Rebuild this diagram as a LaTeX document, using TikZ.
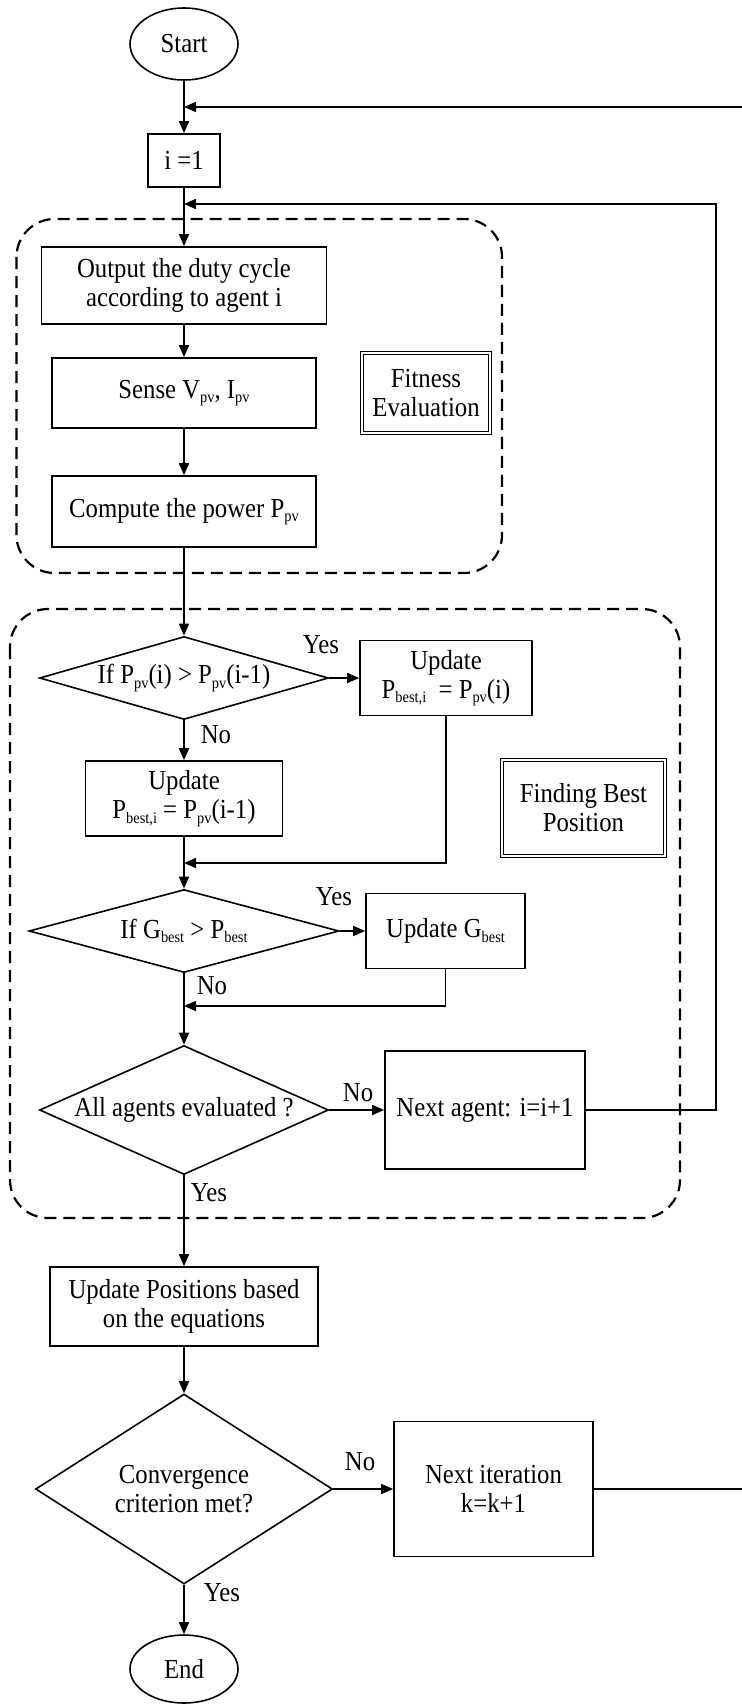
\documentclass[tikz,border=0pt]{standalone}
\usepackage{fontspec}
\setmainfont{Liberation Serif}[FakeStretch=0.9]
\usetikzlibrary{shapes.geometric,arrows.meta}
\newcommand\lo[1]{\raisebox{-0.35ex}{\fontsize{16}{16}\selectfont #1}}
\begin{document}
\begin{tikzpicture}[x=1pt,y=-1pt,
  every node/.style={font=\fontsize{27.5}{29}\selectfont},
  ln/.style={line width=1.6pt},
  arr/.style={ln,-{Triangle[length=12pt,width=10pt]}},
  box/.style={draw,ln,rectangle,align=center,inner sep=0pt},
  term/.style={draw,ln,ellipse,inner sep=0pt},
  dec/.style={draw,ln,diamond,align=center,inner sep=0pt},
  dbox/.style={draw,double,double distance=2pt,line width=0.9pt,align=center,inner sep=0pt},
  grp/.style={draw,line width=2.2pt,dash pattern=on 12pt off 7pt,rounded corners=38pt},
  lbl/.style={inner sep=0pt}]
\fill[white] (0,0) rectangle (741,1704);
\useasboundingbox (0,0) rectangle (741,1704);

% groups
\draw[grp] (16.5,219) rectangle (502,573);
\draw[grp] (10,609) rectangle (680,1218);

% nodes
\node[term,minimum width=108pt,minimum height=72pt] (start) at (184,44) {Start};
\node[box,minimum width=72pt,minimum height=53pt] (i1) at (184,160.5) {i =1};
\node[box,minimum width=285pt,minimum height=77pt] (out) at (184,285.5) {Output the duty cycle\\according to agent i};
\node[box,minimum width=264pt,minimum height=70pt] (sense) at (184,393) {Sense V\lo{pv}, I\lo{pv}};
\node[box,minimum width=264pt,minimum height=71pt] (comp) at (184,511.5) {Compute the power P\lo{pv}};
\node[dbox,minimum width=128pt,minimum height=80pt] (fit) at (426,393) {Fitness\\Evaluation};

\node[dec,aspect=3.48,minimum width=289pt,minimum height=83pt] (d1) at (184,678) {If P\lo{pv}(i) > P\lo{pv}(i-1)};
\node[box,minimum width=172pt,minimum height=75pt] (upr) at (446,678) {Update\\P\lo{best,i}\ \ = P\lo{pv}(i)};
\node[box,minimum width=197pt,minimum height=75pt] (upl) at (184,798.5) {Update\\P\lo{best,i} = P\lo{pv}(i-1)};
\node[dbox,minimum width=163pt,minimum height=96pt] (fbp) at (583.5,808) {Finding Best\\Position};
\coordinate (m1) at (184,863);

\node[dec,aspect=3.73,minimum width=310pt,minimum height=83pt] (d2) at (184,931) {If G\lo{best} > P\lo{best}};
\node[box,minimum width=159pt,minimum height=75pt] (ug) at (445.5,931) {Update G\lo{best}};
\coordinate (m2) at (184,1006);

\node[dec,aspect=2.24,minimum width=289pt,minimum height=129pt] (d3) at (184,1110) {All agents evaluated ?};
\node[box,minimum width=200pt,minimum height=118pt] (na) at (485,1110) {Next agent: i=i+1};

\node[box,minimum width=268pt,minimum height=79pt] (upd) at (184,1306.5) {Update Positions based\\on the equations};
\node[dec,aspect=1.56,minimum width=297pt,minimum height=190pt] (d4) at (184,1489) {Convergence\\criterion met?};
\node[box,minimum width=199pt,minimum height=135pt] (ni) at (493.5,1489) {Next iteration\\k=k+1};
\node[term,minimum width=108pt,minimum height=68pt] (end) at (184,1669) {End};

% labels
\node[lbl] (y1) at (321,645) {Yes};
\node[lbl] (n1) at (216,735) {No};
\node[lbl] (y2) at (334,897) {Yes};
\node[lbl] (n2) at (212,986) {No};
\node[lbl] (n3) at (358,1093) {No};
\node[lbl] (y3) at (209,1193) {Yes};
\node[lbl] (n4) at (360,1462) {No};
\node[lbl] (y4) at (222,1593) {Yes};

% coordinates for loops
\coordinate (j1) at (184,107);
\coordinate (e1) at (742,107);
\coordinate (j2) at (184,204);
\coordinate (c2) at (716,204);
\coordinate (c2b) at (716,1110);
\coordinate (e2) at (742,1489);

% connectors
\draw[arr] (start) -- (i1);
\draw[arr] (e1) -- (j1);
\draw[arr] (i1) -- (out);
\draw[arr] (na.east) -- (c2b) -- (c2) -- (j2);
\draw[arr] (out) -- (sense);
\draw[arr] (sense) -- (comp);
\draw[arr] (comp) -- (d1);
\draw[arr] (d1) -- (upr);
\draw[arr] (d1) -- (upl);
\draw[arr] (upr.south) |- (m1);
\draw[arr] (upl) -- (d2);
\draw[arr] (d2) -- (ug);
\draw[arr] (d2) -- (d3);
\draw[arr] (ug.south) |- (m2);
\draw[arr] (d3) -- (na);
\draw[arr] (d3) -- (upd);
\draw[arr] (upd) -- (d4);
\draw[arr] (d4) -- (ni);
\draw[ln] (ni) -- (e2);
\draw[arr] (d4) -- (end);
\end{tikzpicture}
\end{document}
